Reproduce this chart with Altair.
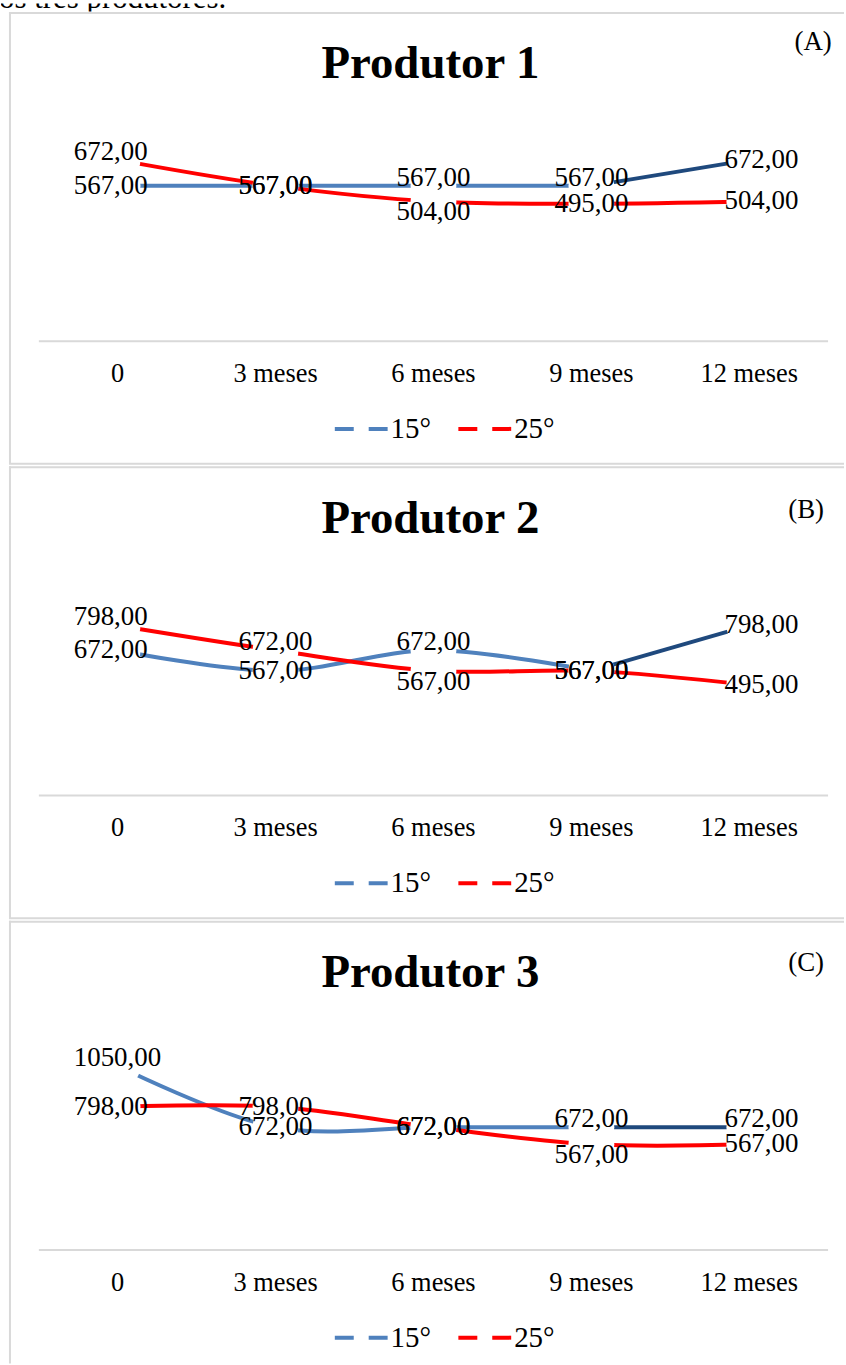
import altair as alt
import pandas as pd

# ---- data -------------------------------------------------------------
meses = ["0", "3 meses", "6 meses", "9 meses", "12 meses"]
series = ["15°", "25°"]

prod1_15 = [567, 567, 567, 567, 672]
prod1_25 = [672, 567, 504, 495, 504]
prod2_15 = [672, 567, 672, 567, 798]
prod2_25 = [798, 672, 567, 567, 495]
prod3_15 = [1050, 672, 672, 672, 672]
prod3_25 = [798, 798, 672, 567, 567]

# data-label placement next to each point: a = acima, c = centro, b = abaixo
rot1_15 = ["c", "c", "a", "a", "c"]
rot1_25 = ["a", "c", "b", "c", "c"]
rot2_15 = ["c", "c", "a", "c", "c"]
rot2_25 = ["a", "a", "b", "c", "c"]
rot3_15 = ["a", "c", "c", "a", "a"]
rot3_25 = ["c", "c", "c", "b", "c"]

texto_topo = "os três produtores."

# ---- style ------------------------------------------------------------
FONT = "Liberation Serif"
BLUE = "#4F81BD"
BLUE_DARK = "#1F497D"
RED = "#FF0000"
FRAME = "#D9D9D9"

W, H = 846, 454          # one panel (frame included)
H_LAST = 445             # last panel runs off the page
X_RANGE = [117, 751]     # centres of first / last category
Y_RANGE = [331, 101]     # value axis: baseline -> top of plot area
AXIS_Y = 331
DY = {"a": -8, "c": 0, "b": 11}
COLS = {"ini": ("left", -44), "meio": ("center", 0), "fim": ("left", -25)}
MARKER = 46 * 46         # white point markers that open a gap in the line

x_scale = alt.Scale(type="point", domain=meses, range=X_RANGE, padding=0)


def panel(titulo, tag, tag_pos, v15, v25, r15, r25, y_dom, height, bottom_frame):
    rows = []
    for serie, vals, rots in ((series[0], v15, r15), (series[1], v25, r25)):
        for i, (m, v, r) in enumerate(zip(meses, vals, rots)):
            col = "ini" if i == 0 else ("fim" if i == len(meses) - 1 else "meio")
            rows.append({"mes": m, "idx": i, "serie": serie, "valor": v,
                         "rot": r, "col": col})
    df = pd.DataFrame(rows)

    x = alt.X("mes:O", scale=x_scale, axis=None)
    y = alt.Y("valor:Q", axis=None,
              scale=alt.Scale(domain=y_dom, range=Y_RANGE, zero=False, nice=False))
    base = alt.Chart(df)

    one = alt.Chart(pd.DataFrame({"k": [0]}))
    frame = [
        one.mark_rule(color=FRAME, strokeWidth=2).encode(
            x=alt.value(9), y=alt.value(0.5), y2=alt.value(height)),
        one.mark_rule(color=FRAME, strokeWidth=2).encode(
            x=alt.value(8), x2=alt.value(W), y=alt.value(1.5)),
    ]
    if bottom_frame:
        frame.append(one.mark_rule(color=FRAME, strokeWidth=2).encode(
            x=alt.value(8), x2=alt.value(W), y=alt.value(height)))
    axis_line = one.mark_rule(color=FRAME, strokeWidth=2).encode(
        x=alt.value(38), x2=alt.value(830), y=alt.value(AXIS_Y))

    lines = base.transform_filter(
        "datum.serie == '25°' || datum.idx <= 3"
    ).mark_line(strokeWidth=4, interpolate="catmull-rom", strokeCap="butt").encode(
        x=x, y=y, order=alt.Order("idx:Q"),
        color=alt.Color(
            "serie:N",
            scale=alt.Scale(domain=series, range=[BLUE, RED]),
            legend=alt.Legend(
                orient="none", legendX=333, legendY=390, direction="horizontal",
                title=None, symbolType="stroke", symbolStrokeWidth=4,
                symbolDash=[19, 15], symbolSize=2916, labelFont=FONT,
                labelFontSize=29, labelColor="black", labelOffset=0,
                columnPadding=19, padding=0, labelLimit=200,
            ),
        ),
    )
    last_seg = base.transform_filter(
        "datum.serie == '15°' && datum.idx >= 3"
    ).mark_line(strokeWidth=4, color=BLUE_DARK, strokeCap="butt").encode(
        x=x, y=y, order=alt.Order("idx:Q"))

    markers = base.mark_circle(size=MARKER, color="white", opacity=1).encode(x=x, y=y)

    labels = base.transform_calculate(
        rotulo="replace(format(datum.valor, '.2f'), '.', ',')"
    )
    texts = []
    for col, (al, dx) in COLS.items():
        for rot, dy in DY.items():
            sub = df[(df["col"] == col) & (df["rot"] == rot)]
            if sub.empty:
                continue
            f = labels.transform_filter(
                f"datum.col == '{col}' && datum.rot == '{rot}'")
            texts.append(f.mark_text(
                font=FONT, fontSize=27, align=al, dx=dx, dy=dy,
                baseline="middle", color="black"
            ).encode(x=x, y=y, text="rotulo:N"))

    cat_labels = alt.Chart(pd.DataFrame({"mes": meses})).mark_text(
        font=FONT, fontSize=26.5, align="center", baseline="alphabetic", color="black"
    ).encode(x=x, y=alt.value(372), text="mes:N")

    head = alt.Chart(pd.DataFrame({"t": [titulo]})).mark_text(
        font=FONT, fontSize=47, fontWeight="bold", align="center",
        baseline="alphabetic", color="black"
    ).encode(x=alt.value(431), y=alt.value(67), text="t:N")

    tag_mark = alt.Chart(pd.DataFrame({"t": [tag]})).mark_text(
        font=FONT, fontSize=27, align="center", baseline="middle", color="black"
    ).encode(x=alt.value(tag_pos[0]), y=alt.value(tag_pos[1]), text="t:N")

    return alt.layer(
        *frame, axis_line, lines, last_seg, markers, *texts, cat_labels, head, tag_mark
    ).properties(width=W, height=height)


p1 = panel("Produtor 1", "(A)", (815, 31), prod1_15, prod1_25, rot1_15, rot1_25,
           [-60, 865], H, True)
p2 = panel("Produtor 2", "(B)", (808, 44), prod2_15, prod2_25, rot2_15, rot2_25,
           [-67, 1098], H, True)
p3 = panel("Produtor 3", "(C)", (808, 43), prod3_15, prod3_25, rot3_15, rot3_25,
           [-82, 1326], H_LAST, False)

topo = alt.Chart(pd.DataFrame({"t": [texto_topo]})).mark_text(
    font=FONT, fontSize=31, align="left", baseline="alphabetic", color="black",
    clip=True
).encode(x=alt.value(-2), y=alt.value(5), text="t:N").properties(width=W, height=8)

painel = alt.vconcat(p1, p2, p3, spacing=2, bounds="flush").resolve_scale(
    x="independent", y="independent", color="independent")

chart = alt.vconcat(topo, painel, spacing=0, bounds="flush").properties(
    padding=0
).configure_view(stroke="transparent")

chart.save("out.html", embed_options={"renderer": "svg", "actions": False})
